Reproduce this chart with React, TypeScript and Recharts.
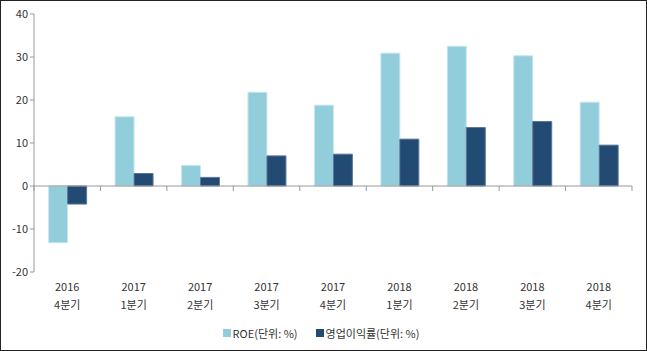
import React from 'react';
import { BarChart, Bar, XAxis, YAxis, Legend, ReferenceLine } from 'recharts';

const years = ['2016', '2017', '2017', '2017', '2017', '2018', '2018', '2018', '2018'];
const quarters = ['4분기', '1분기', '2분기', '3분기', '4분기', '1분기', '2분기', '3분기', '4분기'];
const roe = [-13.2, 16.1, 4.8, 21.8, 18.8, 30.9, 32.5, 30.3, 19.5];
const opMargin = [-4.2, 2.9, 2.0, 7.0, 7.4, 10.9, 13.6, 15.0, 9.5];
const yTicks = [-20, -10, 0, 10, 20, 30, 40];

const data = years.map((y, i) => ({
  name: `${y}\n${quarters[i]}`,
  year: y,
  quarter: quarters[i],
  roe: roe[i],
  op: opMargin[i],
}));

const FONT = '"Noto Sans CJK KR", "DejaVu Sans", sans-serif';

const CategoryTick = ({ x, y, index }: any) => {
  const d = data[index] || { year: '', quarter: '' };
  return (
    <g transform={`translate(${x},${y})`}>
      <text x={0} y={0} dy={11} textAnchor="middle" fontSize={11} fill="#333" fontFamily={FONT}>
        {d.year}
      </text>
      <text x={0} y={0} dy={29} textAnchor="middle" fontSize={11} fill="#333" fontFamily={FONT}>
        {d.quarter}
      </text>
    </g>
  );
};

// zero line with category boundary ticks
const ZeroAxis = (props: any) => {
  const { x1, x2, y1 } = props;
  const n = data.length;
  const step = (x2 - x1) / n;
  const marks = [];
  for (let i = 0; i <= n; i++) {
    const xx = x1 + step * i;
    marks.push(<line key={i} x1={xx} x2={xx} y1={y1} y2={y1 + 5} stroke="#999" />);
  }
  return (
    <g>
      <line x1={x1} x2={x2} y1={y1} y2={y1} stroke="#999" />
      {marks}
    </g>
  );
};

const LegendContent = () => (
  <div style={{ display: 'flex', justifyContent: 'center', fontFamily: FONT, fontSize: 11, color: '#333', paddingLeft: 10, paddingTop: 4 }}>
    <span style={{ display: 'flex', alignItems: 'center', marginRight: 18 }}>
      <span style={{ width: 8, height: 8, background: '#92CDDC', marginRight: 2, display: 'inline-block' }} />
      ROE(단위: %)
    </span>
    <span style={{ display: 'flex', alignItems: 'center' }}>
      <span style={{ width: 8, height: 8, background: '#234A72', marginRight: 2, display: 'inline-block' }} />
      영업이익률(단위: %)
    </span>
  </div>
);

export default function App() {
  return (
    <div style={{ position: 'absolute', left: 0, top: 0, width: 647, height: 351, background: '#fff' }}>
      <BarChart
        width={647}
        height={351}
        data={data}
        margin={{ top: 14, right: 15, left: 0, bottom: 0 }}
        barCategoryGap="22%"
        barGap={0}
      >
        <XAxis
          dataKey="name"
          axisLine={false}
          tickLine={false}
          height={49}
          interval={0}
          tick={<CategoryTick />}
        />
        <YAxis
          width={34}
          domain={[-20, 40]}
          ticks={yTicks}
          axisLine={{ stroke: '#999' }}
          tickLine={{ stroke: '#999' }}
          tickSize={4}
          tick={{ fontSize: 11, fill: '#333', fontFamily: FONT }}
        />
        <Bar dataKey="roe" fill="#92CDDC" stroke="#C8E6EE" strokeWidth={1} isAnimationActive={false} />
        <Bar dataKey="op" fill="#234A72" stroke="#5A7897" strokeWidth={1} isAnimationActive={false} />
        <ReferenceLine y={0} shape={<ZeroAxis />} />
        <Legend verticalAlign="bottom" height={30} content={<LegendContent />} />
      </BarChart>
      <div style={{ position: 'absolute', left: 0, top: 0, width: 647, height: 351, border: '1px solid #222', boxSizing: 'border-box', pointerEvents: 'none' }} />
    </div>
  );
}
